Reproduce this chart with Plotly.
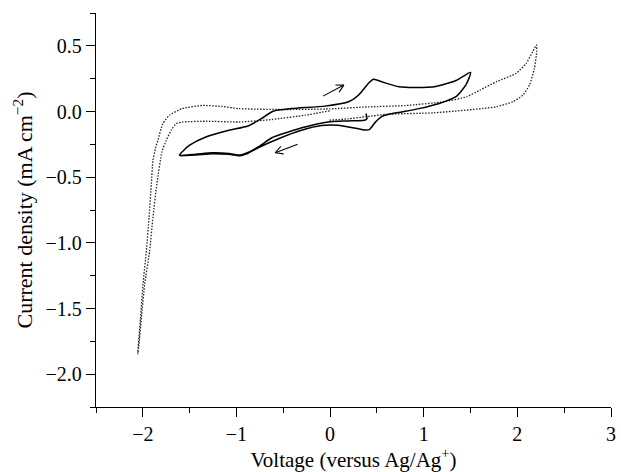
import math
import plotly.graph_objects as go

# ---- data ----
# solid CV loop (V vs Ag/Ag+, mA cm^-2)
solid_v = [0.383, 0.394, 0.366, 0.189, -0.022, -0.269, -0.445, -0.622, -0.763, -0.904, -0.957, -1.08, -1.257, -1.433, -1.61,
           -1.57, -1.504, -1.327, -1.08, -0.877, -0.734, -0.608, -0.412, -0.054, 0.198, 0.305, 0.413, 0.465, 0.556, 0.735, 0.914,
           1.129, 1.344, 1.50,
           1.452, 1.344, 1.165, 0.950, 0.664, 0.556, 0.484, 0.419, 0.366, 0.084, -0.093, -0.305, -0.551, -0.763, -0.904, -0.957,
           -1.08, -1.257, -1.433, -1.60]
solid_j = [-0.015, -0.054, -0.067, -0.072, -0.080, -0.118, -0.156, -0.200, -0.268, -0.320, -0.332, -0.320, -0.315, -0.325, -0.333,
           -0.300, -0.258, -0.194, -0.143, -0.110, -0.055, 0.002, 0.022, 0.041, 0.074, 0.126, 0.217, 0.245, 0.225, 0.188, 0.182,
           0.190, 0.236, 0.298,
           0.204, 0.113, 0.061, 0.022, -0.016, -0.037, -0.081, -0.138, -0.140, -0.105, -0.107, -0.143, -0.207, -0.274, -0.326, -0.337,
           -0.326, -0.321, -0.331, -0.336]

# dotted CV (blank electrolyte)
dotted_v = [-0.004, -0.269, -0.622, -0.975, -1.327, -1.575, -1.644, -1.697, -1.750, -1.795, -1.850, -1.892, -1.927, -1.980,
            -2.015, -2.045, -2.055,
            -2.025, -1.998, -1.962, -1.934, -1.909, -1.892, -1.865, -1.839, -1.786, -1.715, -1.575, -1.363, -1.151, -0.975,
            -0.5, 0.0, 0.401, 0.8, 1.213, 1.459, 1.600, 1.777, 1.988, 2.094, 2.165, 2.204,
            2.207, 2.182, 2.129, 2.059, 1.953, 1.777, 1.636, 1.107, 0.613, 0.383, 0.189, -0.022]
dotted_j = [0.005, -0.028, -0.061, -0.080, -0.074, -0.080, -0.092, -0.143, -0.220, -0.305, -0.551, -0.806, -1.061, -1.316,
            -1.571, -1.80, -1.847,
            -1.571, -1.316, -1.061, -0.806, -0.551, -0.373, -0.280, -0.220, -0.092, -0.028, 0.023, 0.046, 0.038, 0.022,
            0.015, 0.020, 0.035, 0.045, 0.074, 0.112, 0.163, 0.227, 0.291, 0.367, 0.456, 0.507,
            0.456, 0.329, 0.201, 0.125, 0.074, 0.037, 0.023, -0.010, -0.021, -0.040, -0.056, -0.067]

# scan-direction arrows (tail -> head)
arrow_tail_v = [-0.075, -0.347]
arrow_tail_j = [0.117, -0.250]
arrow_head_v = [0.147, -0.586]
arrow_head_j = [0.201, -0.314]

x_ticks = [-2, -1, 0, 1, 2, 3]
y_ticks = [0.5, 0.0, -0.5, -1.0, -1.5, -2.0]
x_range = [-2.5, 3.0]
y_range = [-2.25, 0.75]

W, H = 621, 472
M = dict(l=96, r=5, t=13, b=65)
pw = W - M["l"] - M["r"]
ph = H - M["t"] - M["b"]
sx = pw / (x_range[1] - x_range[0])
sy = ph / (y_range[1] - y_range[0])

# build chevron arrows in pixel space, convert back to data units
ax_pts, ay_pts = [], []
arm, ang = 8.5, math.radians(28)
for tv, tj, hv, hj in zip(arrow_tail_v, arrow_tail_j, arrow_head_v, arrow_head_j):
    ax_pts += [tv, hv, None]
    ay_pts += [tj, hj, None]
    dx, dy = (tv - hv) * sx, (tj - hj) * sy
    L = math.hypot(dx, dy)
    ux, uy = dx / L, dy / L
    for s in (1, -1):
        c, si = math.cos(s * ang), math.sin(s * ang)
        rx, ry = ux * c - uy * si, ux * si + uy * c
        ax_pts += [hv + rx * arm / sx, hv, None]
        ay_pts += [hj + ry * arm / sy, hj, None]

fig = go.Figure()
fig.add_trace(go.Scatter(x=dotted_v, y=dotted_j, mode="lines",
                         line=dict(color="#222", width=1.3, dash="1.5px,1.5px", shape="spline", smoothing=0.5),
                         hoverinfo="skip", showlegend=False))
fig.add_trace(go.Scatter(x=solid_v, y=solid_j, mode="lines",
                         line=dict(color="black", width=1.5, shape="spline", smoothing=0.6),
                         hoverinfo="skip", showlegend=False))
fig.add_trace(go.Scatter(x=ax_pts, y=ay_pts, mode="lines",
                         line=dict(color="black", width=1.1),
                         hoverinfo="skip", showlegend=False))

font = dict(family="Liberation Serif, Times New Roman, serif", color="black")
fig.update_layout(
    width=W, height=H, margin=M,
    paper_bgcolor="white", plot_bgcolor="white",
    font=dict(**font, size=20),
    showlegend=False,
)
fig.update_xaxes(
    range=x_range, tickvals=x_ticks, ticktext=[("\u2212" + str(-v)) if v < 0 else str(v) for v in x_ticks],
    ticks="outside", ticklen=9, tickwidth=1.2, tickcolor="black",
    minor=dict(ticks="outside", ticklen=5, tickwidth=1.2, tickcolor="black", dtick=0.5, tick0=0),
    showline=True, linecolor="black", linewidth=1.3, showgrid=False, zeroline=False,
    tickfont=dict(size=20),
    title=dict(text="Voltage (versus Ag/Ag<sup>+</sup>)", font=dict(size=21), standoff=6),
)
fig.update_yaxes(
    range=y_range, tickvals=y_ticks, ticktext=[("\u2212" + f"{-v:.1f}") if v < 0 else f"{v:.1f}" for v in y_ticks],
    ticks="outside", ticklen=9, tickwidth=1.2, tickcolor="black",
    minor=dict(ticks="outside", ticklen=5, tickwidth=1.2, tickcolor="black", dtick=0.25, tick0=0),
    showline=True, linecolor="black", linewidth=1.3, showgrid=False, zeroline=False,
    tickfont=dict(size=20),
    title=dict(text="Current density (mA cm<sup>\u22122</sup>)", font=dict(size=22), standoff=6),
)

fig.write_html("out.html")
